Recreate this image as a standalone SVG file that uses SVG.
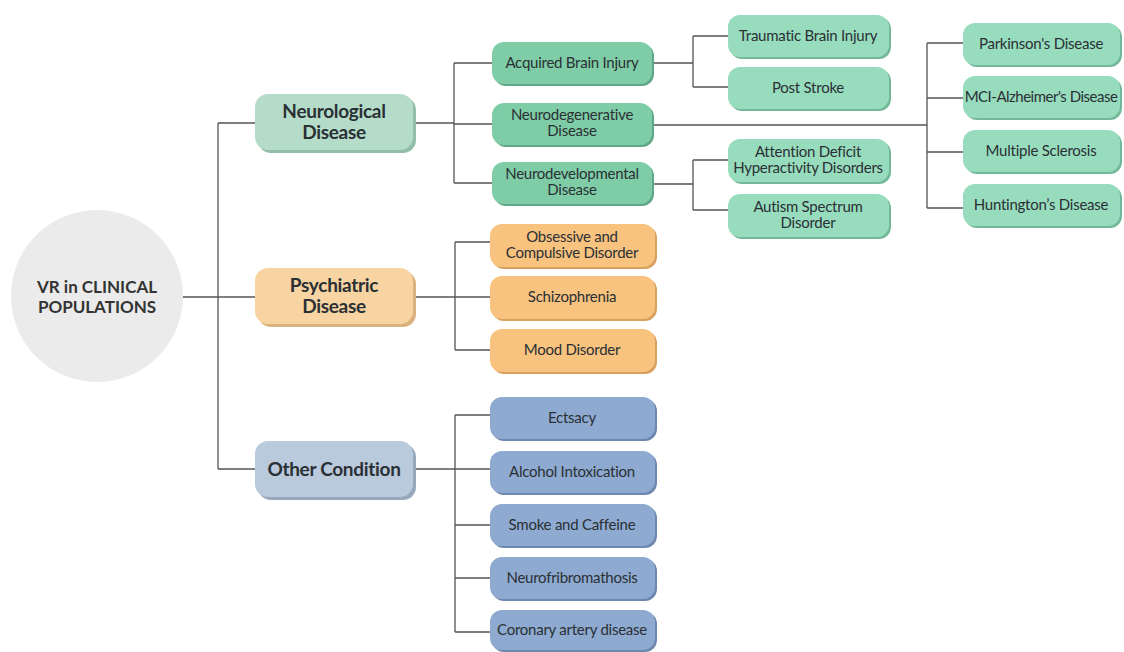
<svg xmlns="http://www.w3.org/2000/svg" width="1124" height="652" viewBox="0 0 1124 652">
<style>
text{font-family:Lato,"Open Sans","Liberation Sans",sans-serif;text-anchor:middle;fill:#2a3034}
.lf{font-size:15px;letter-spacing:-0.25px}
.mn{font-size:19px;font-weight:bold;letter-spacing:-0.3px}
.ct{font-size:17px;font-weight:bold;fill:#333}
.g1{fill:#b4dcc9}.g1s{fill:#93bfaa}
.g2{fill:#7fcda7}.g2s{fill:#5fa886}
.g3{fill:#98dcbe}.g3s{fill:#74b89a}
.o1{fill:#f7d4a2}.o1s{fill:#d9b27d}
.o2{fill:#f8c27f}.o2s{fill:#d7a05e}
.b1{fill:#bacadd}.b1s{fill:#97a8bd}
.b2{fill:#8eaad1}.b2s{fill:#6d88ae}
#connectors path{fill:none;stroke:#555;stroke-width:1.3}
</style>
<rect width="1124" height="652" fill="#fff"/>
<g id="connectors">
<path d="M182 297H218M218 123V469M218 123H255M218 297H255M218 469H255"/>
<path d="M413 123H454M454 63V183M454 63H492M454 124H492M454 183H492"/>
<path d="M652 63H693M693 36V87M693 36H728M693 87H728"/>
<path d="M652 125H927M927 43V208M927 43H963M927 98H963M927 152H963M927 208H963"/>
<path d="M652 184H693M693 160V210M693 160H728M693 210H728"/>
<path d="M413 297H490M455 242V350M455 242H490M455 350H490"/>
<path d="M413 469H490M455 415V632M455 415H490M455 525H490M455 578H490M455 632H490"/>
</g>
<g id="root"><circle cx="97" cy="296" r="86" fill="#ebebeb"/><text class="ct" x="97" y="293">VR in CLINICAL</text><text class="ct" x="97" y="313">POPULATIONS</text></g>
<g id="neuro"><rect class="g1s" x="258" y="97" width="158" height="56" rx="13"/><rect class="g1" x="255" y="94" width="158" height="56" rx="13"/><text class="mn" x="334" y="118">Neurological</text><text class="mn" x="334" y="139">Disease</text></g>
<g id="psych"><rect class="o1s" x="258" y="271" width="158" height="56" rx="13"/><rect class="o1" x="255" y="268" width="158" height="56" rx="13"/><text class="mn" x="334" y="292">Psychiatric</text><text class="mn" x="334" y="313">Disease</text></g>
<g id="other"><rect class="b1s" x="258" y="444" width="158" height="56" rx="13"/><rect class="b1" x="255" y="441" width="158" height="56" rx="13"/><text class="mn" x="334" y="476">Other Condition</text></g>
<g id="abi"><rect class="g2s" x="494" y="44" width="160" height="42" rx="12"/><rect class="g2" x="492" y="42" width="160" height="42" rx="12"/><text class="lf" x="572" y="68">Acquired Brain Injury</text></g>
<g id="ndg"><rect class="g2s" x="494" y="105" width="160" height="42" rx="12"/><rect class="g2" x="492" y="103" width="160" height="42" rx="12"/><text class="lf" x="572" y="120">Neurodegenerative</text><text class="lf" x="572" y="136">Disease</text></g>
<g id="ndv"><rect class="g2s" x="494" y="164" width="160" height="42" rx="12"/><rect class="g2" x="492" y="162" width="160" height="42" rx="12"/><text class="lf" x="572" y="179">Neurodevelopmental</text><text class="lf" x="572" y="195">Disease</text></g>
<g id="tbi"><rect class="g3s" x="730" y="17" width="161" height="42" rx="12"/><rect class="g3" x="728" y="15" width="161" height="42" rx="12"/><text class="lf" x="808" y="41">Traumatic Brain Injury</text></g>
<g id="stroke"><rect class="g3s" x="730" y="69" width="161" height="42" rx="12"/><rect class="g3" x="728" y="67" width="161" height="42" rx="12"/><text class="lf" x="808" y="93">Post Stroke</text></g>
<g id="adhd"><rect class="g3s" x="730" y="141" width="161" height="43" rx="12"/><rect class="g3" x="728" y="139" width="161" height="43" rx="12"/><text class="lf" x="808" y="157">Attention Deficit</text><text class="lf" x="808" y="173">Hyperactivity Disorders</text></g>
<g id="autism"><rect class="g3s" x="730" y="196" width="161" height="43" rx="12"/><rect class="g3" x="728" y="194" width="161" height="43" rx="12"/><text class="lf" x="808" y="212">Autism Spectrum</text><text class="lf" x="808" y="228">Disorder</text></g>
<g id="pd"><rect class="g3s" x="965" y="25" width="157" height="42" rx="12"/><rect class="g3" x="963" y="23" width="157" height="42" rx="12"/><text class="lf" x="1041" y="49">Parkinson's Disease</text></g>
<g id="mci"><rect class="g3s" x="965" y="78" width="157" height="42" rx="12"/><rect class="g3" x="963" y="76" width="157" height="42" rx="12"/><text class="lf" x="1041" y="102" style="letter-spacing:-0.5px">MCI-Alzheimer's Disease</text></g>
<g id="ms"><rect class="g3s" x="965" y="132" width="157" height="42" rx="12"/><rect class="g3" x="963" y="130" width="157" height="42" rx="12"/><text class="lf" x="1041" y="156">Multiple Sclerosis</text></g>
<g id="hd"><rect class="g3s" x="965" y="186" width="157" height="42" rx="12"/><rect class="g3" x="963" y="184" width="157" height="42" rx="12"/><text class="lf" x="1041" y="210">Huntington’s Disease</text></g>
<g id="ocd"><rect class="o2s" x="492" y="226" width="165" height="43" rx="12"/><rect class="o2" x="490" y="224" width="165" height="43" rx="12"/><text class="lf" x="572" y="242">Obsessive and</text><text class="lf" x="572" y="258">Compulsive Disorder</text></g>
<g id="schizo"><rect class="o2s" x="492" y="278" width="165" height="43" rx="12"/><rect class="o2" x="490" y="276" width="165" height="43" rx="12"/><text class="lf" x="572" y="302">Schizophrenia</text></g>
<g id="mood"><rect class="o2s" x="492" y="331" width="165" height="43" rx="12"/><rect class="o2" x="490" y="329" width="165" height="43" rx="12"/><text class="lf" x="572" y="355">Mood Disorder</text></g>
<g id="ecstasy"><rect class="b2s" x="492" y="399" width="165" height="42" rx="12"/><rect class="b2" x="490" y="397" width="165" height="42" rx="12"/><text class="lf" x="572" y="423">Ectsacy</text></g>
<g id="alcohol"><rect class="b2s" x="492" y="453" width="165" height="42" rx="12"/><rect class="b2" x="490" y="451" width="165" height="42" rx="12"/><text class="lf" x="572" y="477">Alcohol Intoxication</text></g>
<g id="smoke"><rect class="b2s" x="492" y="506" width="165" height="42" rx="12"/><rect class="b2" x="490" y="504" width="165" height="42" rx="12"/><text class="lf" x="572" y="530">Smoke and Caffeine</text></g>
<g id="nf"><rect class="b2s" x="492" y="559" width="165" height="42" rx="12"/><rect class="b2" x="490" y="557" width="165" height="42" rx="12"/><text class="lf" x="572" y="583">Neurofribromathosis</text></g>
<g id="cad"><rect class="b2s" x="492" y="612" width="165" height="40" rx="12"/><rect class="b2" x="490" y="610" width="165" height="40" rx="12"/><text class="lf" x="572" y="635">Coronary artery disease</text></g>
</svg>
